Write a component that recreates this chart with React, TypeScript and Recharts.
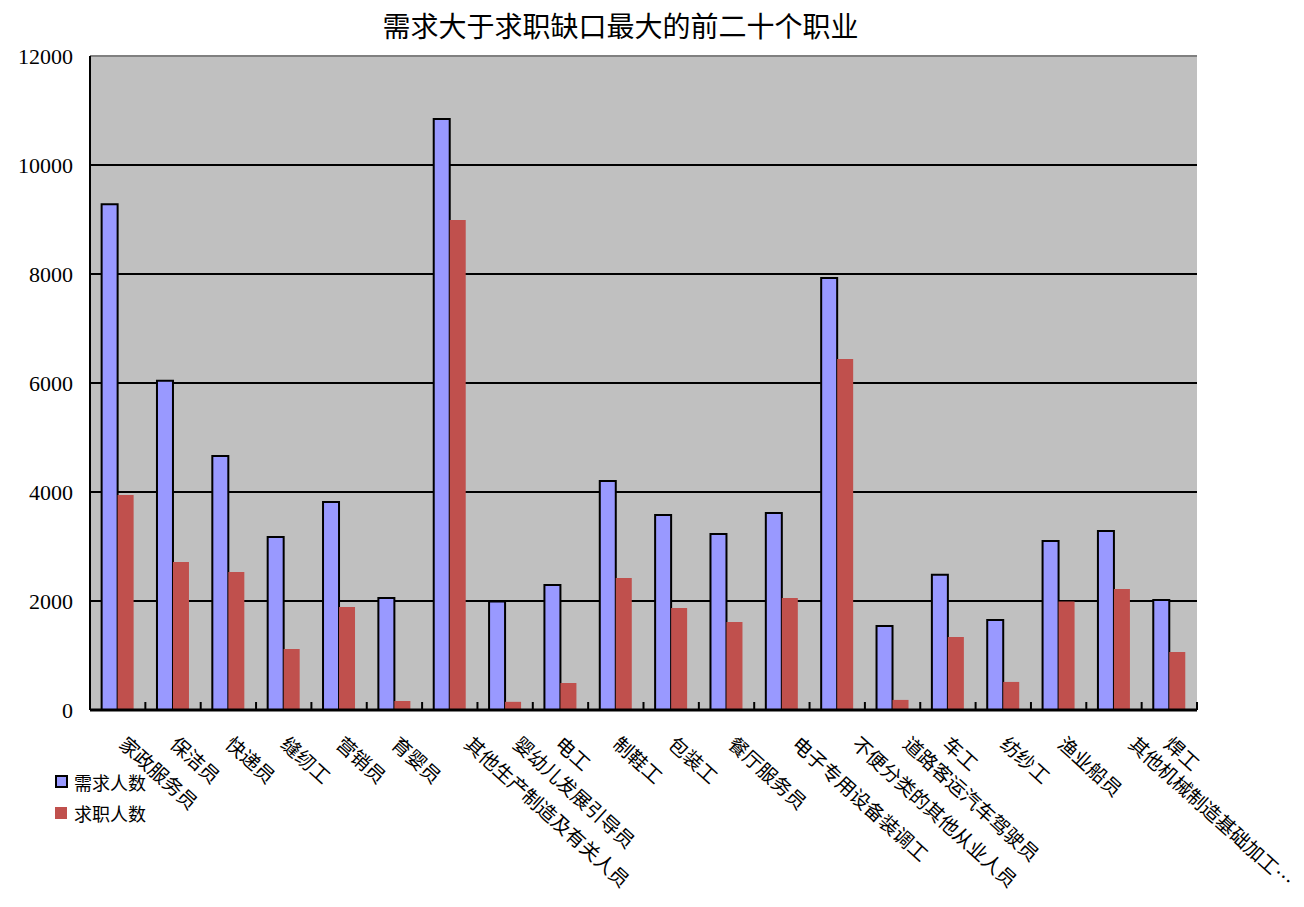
import React from 'react';
import { BarChart, Bar, XAxis, YAxis, CartesianGrid, Legend, ReferenceLine } from 'recharts';

const categories = [
  '家政服务员', '保洁员', '快递员', '缝纫工', '营销员', '育婴员', '其他生产制造及有关人员',
  '婴幼儿发展引导员', '电工', '制鞋工', '包装工', '餐厅服务员', '电子专用设备装调工',
  '不便分类的其他从业人员', '道路客运汽车驾驶员', '车工', '纺纱工', '渔业船员',
  '其他机械制造基础加工…', '焊工',
];
const demand = [9280, 6040, 4660, 3175, 3815, 2055, 10845, 1990, 2295, 4200, 3580, 3230, 3615, 7925, 1540, 2480, 1650, 3100, 3285, 2020];
const seekers = [3945, 2715, 2530, 1120, 1890, 165, 8990, 150, 495, 2420, 1870, 1615, 2055, 6440, 185, 1340, 515, 1990, 2220, 1065];
const yTicks = [0, 2000, 4000, 6000, 8000, 10000, 12000];
const seriesNames = { demand: '需求人数', seekers: '求职人数' };

const data = categories.map((name, i) => ({ name, demand: demand[i], seekers: seekers[i] }));

const CJK = "'Noto Sans CJK SC', 'Noto Sans', sans-serif";
const SERIF = "'Liberation Serif', 'Noto Sans CJK SC', serif";

const XTick = (props: any) => {
  const { x, y, payload } = props;
  const label = String(payload.value);
  const half = typeof payload.offset === 'number' && payload.offset > 0 ? payload.offset : 27.7;
  const n = label.length;
  const tx = x - 11 + 2.2 * n;
  const ty = y + 36;
  return (
    <g>
      <line x1={x + half} x2={x + half} y1={y} y2={y - 8} stroke="#000" strokeWidth={2} />
      <text
        x={tx}
        y={ty}
        transform={`rotate(42 ${tx} ${ty})`}
        fontSize={19.4}
        fontFamily={CJK}
        fill="#000"
        textAnchor="start"
      >
        {label}
      </text>
    </g>
  );
};

const renderLegend = () => (
  <div style={{ fontFamily: CJK, fontSize: 18, color: '#000' }}>
    <div style={{ display: 'flex', alignItems: 'center', height: 31 }}>
      <span style={{ display: 'inline-block', width: 9, height: 9, background: '#9999FF', border: '2px solid #000', marginRight: 6 }} />
      <span>{seriesNames.demand}</span>
    </div>
    <div style={{ display: 'flex', alignItems: 'center', height: 31 }}>
      <span style={{ display: 'inline-block', width: 12, height: 12, background: '#C0504D', marginRight: 7, marginLeft: 0 }} />
      <span>{seriesNames.seekers}</span>
    </div>
  </div>
);

export default function App() {
  return (
    <div style={{ position: 'absolute', left: 0, top: 0, width: 1304, height: 907, background: '#fff' }}>
      <div
        style={{
          position: 'absolute',
          left: 0,
          top: 8,
          width: 1241,
          textAlign: 'center',
          fontFamily: CJK,
          fontSize: 28,
          lineHeight: '34px',
          color: '#000',
        }}
      >
        需求大于求职缺口最大的前二十个职业
      </div>
      <BarChart
        width={1304}
        height={907}
        data={data}
        margin={{ top: 56, right: 107, bottom: 7, left: 16 }}
        barCategoryGap="21%"
        barGap={0}
      >
        <CartesianGrid vertical={false} stroke="#000" strokeWidth={2} fill="#C0C0C0" fillOpacity={1} />
        <ReferenceLine y={12000} stroke="#808080" strokeWidth={2} />
        <XAxis
          dataKey="name"
          interval={0}
          height={190}
          tickSize={0}
          tickMargin={0}
          tickLine={false}
          axisLine={{ stroke: '#000', strokeWidth: 3 }}
          tick={<XTick />}
        />
        <YAxis
          width={74}
          domain={[0, 12000]}
          ticks={yTicks}
          tickLine={false}
          tickSize={8}
          tickMargin={9}
          axisLine={{ stroke: '#000', strokeWidth: 2 }}
          tick={{ fontSize: 22, fontFamily: SERIF, fill: '#000' }}
        />
        <YAxis
          yAxisId="frame"
          orientation="right"
          width={0}
          domain={[0, 12000]}
          tick={false}
          tickLine={false}
          axisLine={{ stroke: '#808080', strokeWidth: 2 }}
        />
        <Legend
          layout="horizontal"
          verticalAlign="middle"
          align="center"
          wrapperStyle={{ left: 55, top: 766, width: 130, height: 62 }}
          content={renderLegend}
        />
        <Bar dataKey="demand" name={seriesNames.demand} fill="#9999FF" stroke="#000" strokeWidth={2} isAnimationActive={false} />
        <Bar dataKey="seekers" name={seriesNames.seekers} fill="#C0504D" isAnimationActive={false} />
      </BarChart>
    </div>
  );
}
